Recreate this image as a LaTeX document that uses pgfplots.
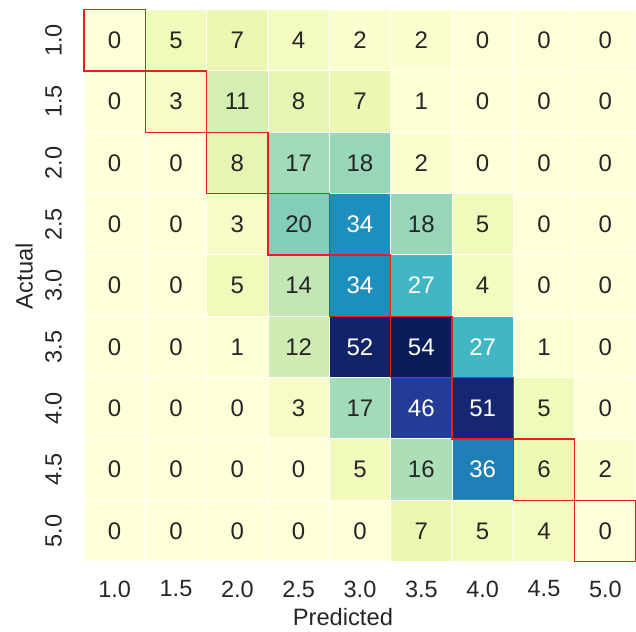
\documentclass[border=0pt]{standalone}
\usepackage{pgfplots}
\usepackage{pgfplotstable}
\pgfplotsset{compat=1.18}
\usepackage{fontspec}
\setmainfont{Liberation Sans}
\definecolor{txtdark}{HTML}{262626}
\definecolor{boxred}{RGB}{235,30,30}
\pgfplotstableread{
x y c
0 0 0
1 0 5
2 0 7
3 0 4
4 0 2
5 0 2
6 0 0
7 0 0
8 0 0
0 1 0
1 1 3
2 1 11
3 1 8
4 1 7
5 1 1
6 1 0
7 1 0
8 1 0
0 2 0
1 2 0
2 2 8
3 2 17
4 2 18
5 2 2
6 2 0
7 2 0
8 2 0
0 3 0
1 3 0
2 3 3
3 3 20
4 3 34
5 3 18
6 3 5
7 3 0
8 3 0
0 4 0
1 4 0
2 4 5
3 4 14
4 4 34
5 4 27
6 4 4
7 4 0
8 4 0
0 5 0
1 5 0
2 5 1
3 5 12
4 5 52
5 5 54
6 5 27
7 5 1
8 5 0
0 6 0
1 6 0
2 6 0
3 6 3
4 6 17
5 6 46
6 6 51
7 6 5
8 6 0
0 7 0
1 7 0
2 7 0
3 7 0
4 7 5
5 7 16
6 7 36
7 7 6
8 7 2
0 8 0
1 8 0
2 8 0
3 8 0
4 8 0
5 8 7
6 8 5
7 8 4
8 8 0
}\cm
\begin{document}
\begin{tikzpicture}
\begin{axis}[
  at={(0pt,0pt)}, anchor=south west,
  scale only axis, width=552pt, height=552pt,
  xmin=-0.5, xmax=8.5, ymin=-0.5, ymax=8.5,
  y dir=reverse,
  clip=false,
  axis line style={draw=none},
  major tick length=0pt,
  /pgf/number format/assume math mode=true,
  colormap={ylgnbu}{rgb255=(255,255,217) rgb255=(237,248,177) rgb255=(199,233,180) rgb255=(127,205,187) rgb255=(65,182,196) rgb255=(29,145,192) rgb255=(34,94,168) rgb255=(37,52,148) rgb255=(8,29,88)},
  point meta min=0, point meta max=54,
  xtick={0,...,8}, ytick={0,...,8},
  xticklabels={1.0,1.5,2.0,2.5,3.0,3.5,4.0,4.5,5.0},
  yticklabels={1.0,1.5,2.0,2.5,3.0,3.5,4.0,4.5,5.0},
  ticklabel style={font=\fontsize{23.5}{28}\selectfont, text=txtdark},
  xticklabel style={inner sep=0pt, anchor=north, yshift=-19pt},
  yticklabel style={inner sep=0pt, xshift=-22pt, rotate=90, anchor=south},
  xlabel={Predicted}, ylabel={Actual},
  label style={font=\fontsize{23.7}{28}\selectfont, text=txtdark},
  xlabel style={inner sep=0pt, at={(axis description cs:0.469,0)}, anchor=north, yshift=-47pt},
  ylabel style={inner sep=0pt, at={(axis description cs:0,0.517)}, anchor=south, yshift=51pt},
]
\addplot[matrix plot, mesh/cols=9, point meta=explicit, draw=white, line width=1pt]
  table[x=x, y=y, meta=c] {\cm};
\addplot[draw=none, mark=none, point meta=explicit,
  nodes near coords, nodes near coords align=center,
  every node near coord/.append style={font=\fontsize{24}{28}\selectfont, text=txtdark, anchor=center},
  restrict expr to domain={\thisrow{c}}{0:26}]
  table[x=x, y=y, meta=c] {\cm};
\addplot[draw=none, mark=none, point meta=explicit,
  nodes near coords, nodes near coords align=center,
  every node near coord/.append style={font=\fontsize{24}{28}\selectfont, text=white, anchor=center},
  restrict expr to domain={\thisrow{c}}{27:100}]
  table[x=x, y=y, meta=c] {\cm};
\addplot[boxred, line width=1.3pt] coordinates {(-0.5,-0.5) (0.5,-0.5) (0.5,0.5) (-0.5,0.5)} -- cycle;
\addplot[boxred, line width=1.3pt] coordinates {(0.5,0.5) (1.5,0.5) (1.5,1.5) (0.5,1.5)} -- cycle;
\addplot[boxred, line width=1.3pt] coordinates {(1.5,1.5) (2.5,1.5) (2.5,2.5) (1.5,2.5)} -- cycle;
\addplot[boxred, line width=1.3pt] coordinates {(2.5,2.5) (3.5,2.5) (3.5,3.5) (2.5,3.5)} -- cycle;
\addplot[boxred, line width=1.3pt] coordinates {(3.5,3.5) (4.5,3.5) (4.5,4.5) (3.5,4.5)} -- cycle;
\addplot[boxred, line width=1.3pt] coordinates {(4.5,4.5) (5.5,4.5) (5.5,5.5) (4.5,5.5)} -- cycle;
\addplot[boxred, line width=1.3pt] coordinates {(5.5,5.5) (6.5,5.5) (6.5,6.5) (5.5,6.5)} -- cycle;
\addplot[boxred, line width=1.3pt] coordinates {(6.5,6.5) (7.5,6.5) (7.5,7.5) (6.5,7.5)} -- cycle;
\addplot[boxred, line width=1.3pt] coordinates {(7.5,7.5) (8.5,7.5) (8.5,8.5) (7.5,8.5)} -- cycle;
\end{axis}
\pgfresetboundingbox
\useasboundingbox (-84pt,-69.7pt) rectangle (552pt,561.6pt);
\end{tikzpicture}
\end{document}
